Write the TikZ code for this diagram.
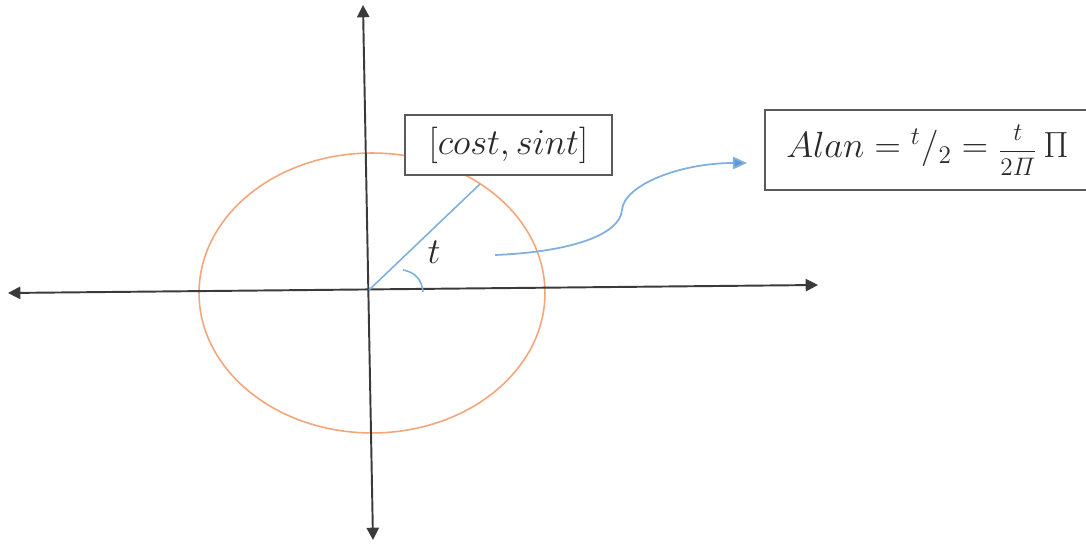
\documentclass[tikz,border=0pt]{standalone}
\usepackage{xcolor}
\usepackage{amsmath}
\usepackage{tikz}
\usetikzlibrary{arrows.meta, positioning, calc}
\definecolor{axisgray}{HTML}{3A3A3A}
\definecolor{orbit}{HTML}{F2A67A}
\definecolor{ray}{HTML}{7FB0DE}
\definecolor{raytip}{HTML}{5B9BD5}
\definecolor{frame}{HTML}{5A5A5A}
\definecolor{ink}{HTML}{2A2A2A}

\begin{document}
\begin{tikzpicture}[
  x=0.02cm, y=-0.02cm,
  axisline/.style={draw=axisgray, line width=1.1pt,
    {Triangle[length=7pt, width=7pt]}-{Triangle[length=7pt, width=7pt]}},
  labelbox/.style={rectangle, draw=frame, fill=white, line width=1.3pt,
    inner sep=0pt, text=ink, font=\fontsize{19.5}{23}\selectfont},
  rayline/.style={draw=ray, line width=0.9pt},
  link/.style={draw=ray, line width=1pt, -{Triangle[length=8pt, width=7pt, fill=raytip]}},
  anglemark/.style={draw=ray, line width=0.9pt},
]
  \useasboundingbox (0,0) rectangle (1086,546);
  \fill[white] (0,0) rectangle (1086,546);

  \coordinate (west) at (8,293);
  \coordinate (east) at (818,285);
  \coordinate (north) at (363,5);
  \coordinate (south) at (373,540);
  \coordinate (origin) at (369,290);
  \coordinate (onorbit) at (480,184);
  \coordinate (from) at (495,255);
  \coordinate (to) at (747,163);

  \draw[orbit, line width=0.9pt] (372,293) ellipse [x radius=3.46cm, y radius=2.8cm];

  \node[labelbox, minimum width=4.14cm, minimum height=1.2cm] (point) at (508.5,145) {$[cost, sint]$};
  \node[labelbox, minimum width=6.5cm, minimum height=1.6cm] (area) at (927.5,150)
    {$Alan = {}^{t}/_{2} = \mbox{\fontsize{15}{17}\selectfont$\displaystyle\frac{t}{2\varPi}$}\,\Pi$};

  \draw[axisline] (west) -- (east);
  \draw[axisline] (north) -- (south);
  \draw[rayline] (origin) -- (onorbit);
  \draw[anglemark] (403,270) .. controls (415,272) and (422,280) .. (423,292);
  \node[text=ink, font=\fontsize{19.5}{23}\selectfont] (tlabel) at (434,252) {$t$};

  \draw[link] (from) .. controls (570,252) and (620,235) .. (622,210)
    .. controls (624,185) and (680,163) .. (to);
\end{tikzpicture}
\end{document}
